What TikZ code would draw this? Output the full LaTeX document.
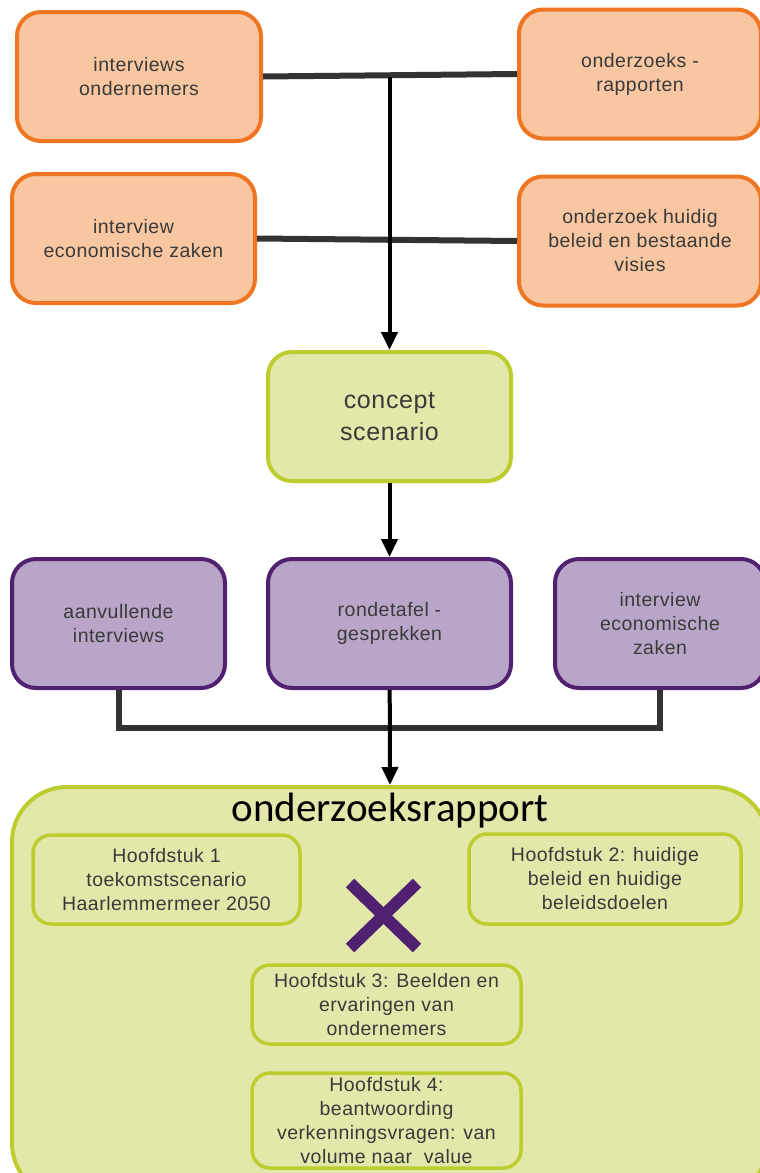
\documentclass[tikz,border=0pt]{standalone}
\usepackage{fontspec}
\setmainfont{Liberation Sans}[LetterSpace=2.5]
\newfontfamily\titlefont{Carlito}
\usepackage{tikz}
\usetikzlibrary{arrows.meta,shapes,positioning}

\definecolor{orgfill}{HTML}{F8C6A1}
\definecolor{orgline}{HTML}{EE7623}
\definecolor{prpfill}{HTML}{B8A5C8}
\definecolor{prpline}{HTML}{4F2170}
\definecolor{grnfill}{HTML}{E3E7AA}
\definecolor{grnline}{HTML}{BDCC2E}
\definecolor{txtgray}{HTML}{3A3A3A}
\definecolor{busgray}{HTML}{333333}

\tikzset{
  box/.style={draw,line width=4pt,rounded corners=24pt,align=center,text=txtgray,
    inner sep=2pt,font=\fontsize{19.5}{24}\selectfont},
  orgbox/.style={box,draw=orgline,fill=orgfill,minimum height=129pt},
  prpbox/.style={box,draw=prpline,fill=prpfill,minimum height=129pt},
  grnbox/.style={box,draw=grnline,fill=grnfill},
  chapbox/.style={grnbox,rounded corners=18pt,line width=3.5pt},
  bus/.style={line width=6pt,draw=busgray},
  arr/.style={line width=4pt,-{Triangle[width=16pt,length=18pt]}}
}

\begin{document}
\begin{tikzpicture}[x=1pt,y=-1pt]
  \useasboundingbox (0,0) rectangle (760,1173);
  \clip (0,0) rectangle (760,1173);
  \fill[white] (0,0) rectangle (760,1173);

  % bronnen
  \node[orgbox,minimum width=244pt] (intond) at (139,76.5) {interviews\\ondernemers};
  \node[orgbox,minimum width=242pt] (rapporten) at (640,74) {onderzoeks -\\rapporten};
  \node[orgbox,minimum width=243pt] (intez) at (133.5,238.5) {interview\\economische zaken};
  \node[orgbox,minimum width=242pt] (beleid) at (640,241) {onderzoek huidig\\beleid en bestaande\\visies};

  \node[grnbox,minimum width=243pt,minimum height=129pt,font=\fontsize{25}{32}\selectfont]
    (concept) at (389.5,416.5) {concept\\scenario};

  \node[prpbox,minimum width=213pt] (aanvul) at (118.5,623.5) {aanvullende\\interviews};
  \node[prpbox,minimum width=243pt] (ronde) at (389.5,623.5) {rondetafel -\\gesprekken};
  \node[prpbox,minimum width=210pt] (intez2) at (660,623.5) {interview\\economische\\zaken};

  % rapport
  \node[grnbox,rounded corners=55pt,minimum width=756pt,minimum height=411pt] (rapport) at (390,992.5) {};
  \node[font=\titlefont\fontsize{41}{46}\selectfont] (titel) at (390,811) {onderzoeksrapport};
  \node[chapbox,minimum width=267pt,minimum height=89pt] (h1) at (166.5,879.5)
    {Hoofdstuk 1\\toekomstscenario\\Haarlemmermeer 2050};
  \node[chapbox,minimum width=272pt,minimum height=90pt] (h2) at (605,879)
    {Hoofdstuk 2: huidige\\beleid en huidige\\beleidsdoelen};
  \node[chapbox,minimum width=269pt,minimum height=79pt] (h3) at (386.5,1004.5)
    {Hoofdstuk 3: Beelden en\\ervaringen van\\ondernemers};
  \node[chapbox,minimum width=269pt,minimum height=95pt] (h4) at (386.5,1120.5)
    {Hoofdstuk 4:\\beantwoording\\verkenningsvragen: van\\volume naar\ \ value};
  \draw[line width=12pt,prpline] (350,883) -- (417,948) (350,948) -- (417,883);

  % verbindingen
  \draw[bus] (intond.east) -- (rapporten.west);
  \draw[bus] (intez.east) -- (beleid.west);
  \coordinate (join) at (concept.north |- intond.east);
  \draw[arr] (join) -- (concept.north);
  \draw[arr] (concept) -- (ronde);
  \draw[bus] (aanvul.south) -- ++(0,38) -| (intez2.south);
  \draw[arr] (ronde) -- (rapport.north);
\end{tikzpicture}
\end{document}
